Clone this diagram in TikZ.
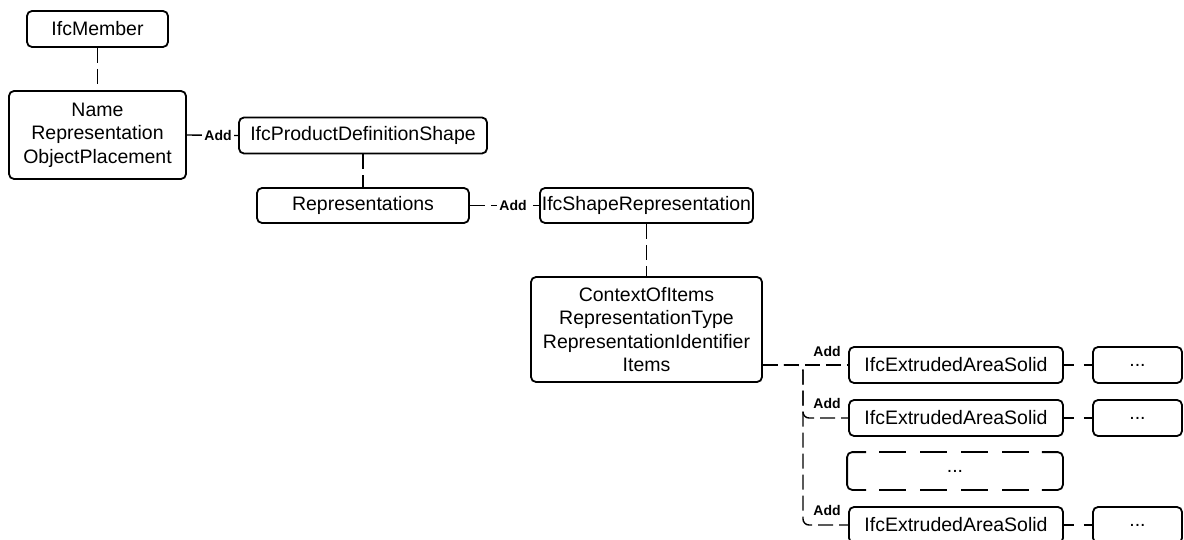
\documentclass[tikz,border=0pt]{standalone}
\usepackage{fontspec}
\setmainfont{Liberation Sans}
\usetikzlibrary{calc}
\newcommand{\threedots}{{.}{.}{.}}
\begin{document}
\begin{tikzpicture}[x=1pt,y=-1pt,
  box/.style={draw=black,line width=1.8pt,rounded corners=5pt,align=center,
    inner sep=0pt,font=\fontsize{19.5}{23.5}\selectfont},
  plain/.style={box,draw=none},
  frame/.style={line width=1.8pt,rounded corners=5pt},
  link/.style={line width=1.4pt,dash pattern=on 15pt off 6pt},
  shortlink/.style={line width=1.4pt,dash pattern=on 10pt off 10pt},
  addlbl/.style={font=\bfseries\fontsize{14}{16}\selectfont,inner sep=1pt},
  addmid/.style={addlbl,fill=white,inner xsep=2pt}]
\useasboundingbox (0,0) rectangle (1184,540);

% object and its attributes
\node[box,minimum width=141pt,minimum height=36pt] (mem) at (97.5,29) {IfcMember};
\node[box,minimum width=177pt,minimum height=88pt] (attrs) at (97.5,135)
  {Name\\Representation\\ObjectPlacement};

% shape definition chain
\node[box,minimum width=248pt,minimum height=36pt] (pds) at (363,135.5) {IfcProductDefinitionShape};
\node[box,minimum width=212pt,minimum height=35pt] (reps) at (363,205.5) {Representations};
\node[box,minimum width=213pt,minimum height=35pt] (shr) at (646.5,205.5) {IfcShapeRepresentation};
\node[box,minimum width=231pt,minimum height=105pt] (ctx) at (646.5,329.5)
  {ContextOfItems\\RepresentationType\\RepresentationIdentifier\\Items};

% representation items
\node[box,minimum width=214pt,minimum height=36pt] (ext1) at (956,365) {IfcExtrudedAreaSolid};
\node[box,minimum width=89pt,minimum height=36pt] (dot1) at (1137.5,365) {\threedots};
\node[box,minimum width=214pt,minimum height=36pt] (ext2) at (956,418) {IfcExtrudedAreaSolid};
\node[box,minimum width=89pt,minimum height=36pt] (dot2) at (1137.5,418) {\threedots};
\node[plain,minimum width=214pt,minimum height=36pt] (more) at (955,471) {\threedots};
\node[box,minimum width=214pt,minimum height=36pt] (ext4) at (956,525) {IfcExtrudedAreaSolid};
\node[box,minimum width=89pt,minimum height=36pt] (dot4) at (1137.5,525) {\threedots};

% placeholder frame: solid side brackets, dashed long edges
\draw[frame] ([xshift=19pt]more.north west) -| (more.south west) -- ++(19pt,0);
\draw[frame] ([xshift=-21pt]more.north east) -| (more.south east) -- ++(-21pt,0);
\draw[line width=1.8pt,dash pattern=on 27pt off 14pt]
  ([xshift=32pt]more.north west) -- ([xshift=-32pt]more.north east);
\draw[line width=1.8pt,dash pattern=on 27pt off 14pt]
  ([xshift=32pt]more.south west) -- ([xshift=-32pt]more.south east);

% vertical links
\draw[link] (mem.south) -- (attrs.north);
\draw[link] (pds.south) -- (reps.north);
\draw[link] (shr.south) -- (ctx.north);

% Add links
\draw[link] (attrs.east) -- (pds.west);
\node[addmid] (add1) at (218,135) {Add};
\draw[link] (reps.east) -- (shr.west);
\node[addmid] (add2) at (513,205.5) {Add};

% item bus
\coordinate (ctxout) at (ctx.east |- ext1.west);
\coordinate (bus) at (803,365);
\draw[link] (ctxout) -- (ext1.west);
\draw[link,rounded corners=6pt] (ctxout) -- (bus) |- (ext2.west);
\draw[link,rounded corners=6pt] (ctxout) -- (bus) |- (ext4.west);
\node[addlbl] (add3) at (827,351) {Add};
\node[addlbl] (add4) at (827,403) {Add};
\node[addlbl] (add5) at (827,510) {Add};

% item details
\draw[shortlink] (ext1.east) -- (dot1.west);
\draw[shortlink] (ext2.east) -- (dot2.west);
\draw[shortlink] (ext4.east) -- (dot4.west);
\end{tikzpicture}
\end{document}
